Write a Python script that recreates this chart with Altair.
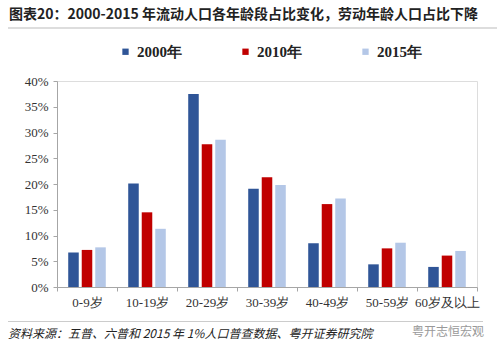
import altair as alt
import pandas as pd

categories = ["0-9岁", "10-19岁", "20-29岁", "30-39岁", "40-49岁", "50-59岁", "60岁及以上"]
years = ["2000年", "2010年", "2015年"]
v2000 = [6.7, 20.1, 37.5, 19.1, 8.5, 4.4, 3.9]
v2010 = [7.2, 14.5, 27.7, 21.3, 16.1, 7.5, 6.1]
v2015 = [7.7, 11.3, 28.6, 19.8, 17.2, 8.6, 7.0]
y_ticks = [0, 5, 10, 15, 20, 25, 30, 35, 40]
colors = ["#2F5597", "#C00000", "#B4C7E7"]

title_text = "图表20：2000-2015 年流动人口各年龄段占比变化，劳动年龄人口占比下降"
source_text = "资料来源：五普、六普和 2015 年 1%人口普查数据、粤开证券研究院"
watermark_text = "粤开志恒宏观"

rows = []
for i, c in enumerate(categories):
    for y, vals in zip(years, [v2000, v2010, v2015]):
        rows.append({"age": c, "year": y, "value": vals[i]})
df = pd.DataFrame(rows)

serif = "Liberation Serif"
cjk = "Noto Sans CJK SC"

bars = alt.Chart(df).mark_bar().encode(
    x=alt.X("age:N", sort=categories, title=None,
            scale=alt.Scale(paddingInner=0, paddingOuter=0),
            axis=alt.Axis(labelAngle=0, tickBand="extent", tickSize=4,
                          domainColor="#A6A6A6", tickColor="#A6A6A6",
                          labelFont=serif, labelFontSize=13, labelColor="#333333",
                          labelPadding=5)),
    xOffset=alt.XOffset("year:N", sort=years,
                        scale=alt.Scale(paddingInner=0.22, paddingOuter=0.83)),
    y=alt.Y("value:Q", title=None, scale=alt.Scale(domain=[0, 40], nice=False),
            axis=alt.Axis(values=y_ticks, labelExpr="datum.value + '%'", grid=False,
                          tickSize=4, domainColor="#A6A6A6", tickColor="#A6A6A6",
                          labelFont=serif, labelFontSize=13, labelColor="#333333",
                          labelPadding=5)),
    color=alt.Color("year:N", sort=years, scale=alt.Scale(domain=years, range=colors),
                    legend=alt.Legend(title=None, orient="none", direction="horizontal",
                                      legendX=61, legendY=-37, symbolType="square",
                                      symbolSize=40, symbolStrokeWidth=0,
                                      labelFont=serif, labelFontSize=15,
                                      labelFontWeight="bold", labelColor="#222222",
                                      columnPadding=56, labelOffset=4)),
)

title = alt.Chart(pd.DataFrame({"t": [title_text]})).mark_text(
    align="left", baseline="middle", font=cjk, fontSize=14, fontWeight="bold",
    color="#222222").encode(text="t:N", x=alt.value(-48), y=alt.value(-66))

top_line = alt.Chart(pd.DataFrame({"t": [0]})).mark_rule(
    color="#BBBBBB", strokeWidth=1).encode(
    x=alt.value(-49), x2=alt.value(440), y=alt.value(-53))

bottom_line = alt.Chart(pd.DataFrame({"t": [0]})).mark_rule(
    color="#CCCCCC", strokeWidth=1).encode(
    x=alt.value(-49), x2=alt.value(426), y=alt.value(240.5))

source = alt.Chart(pd.DataFrame({"t": [source_text]})).mark_text(
    align="left", baseline="middle", font=cjk, fontSize=12, fontStyle="italic",
    color="#222222").encode(text="t:N", x=alt.value(-49), y=alt.value(253))

watermark = alt.Chart(pd.DataFrame({"t": [watermark_text]})).mark_text(
    align="left", baseline="middle", font=cjk, fontSize=12,
    color="#999999").encode(text="t:N", x=alt.value(355), y=alt.value(251))

chart = alt.layer(bars, title, top_line, bottom_line, source, watermark).properties(
    width=420, height=206,
    autosize=alt.AutoSizeParams(type="none"),
    padding={"left": 57, "top": 81, "right": 23, "bottom": 68},
).configure_view(stroke=None).configure(background="white")

chart.save("out.html", embed_options={"renderer": "svg", "actions": False})
